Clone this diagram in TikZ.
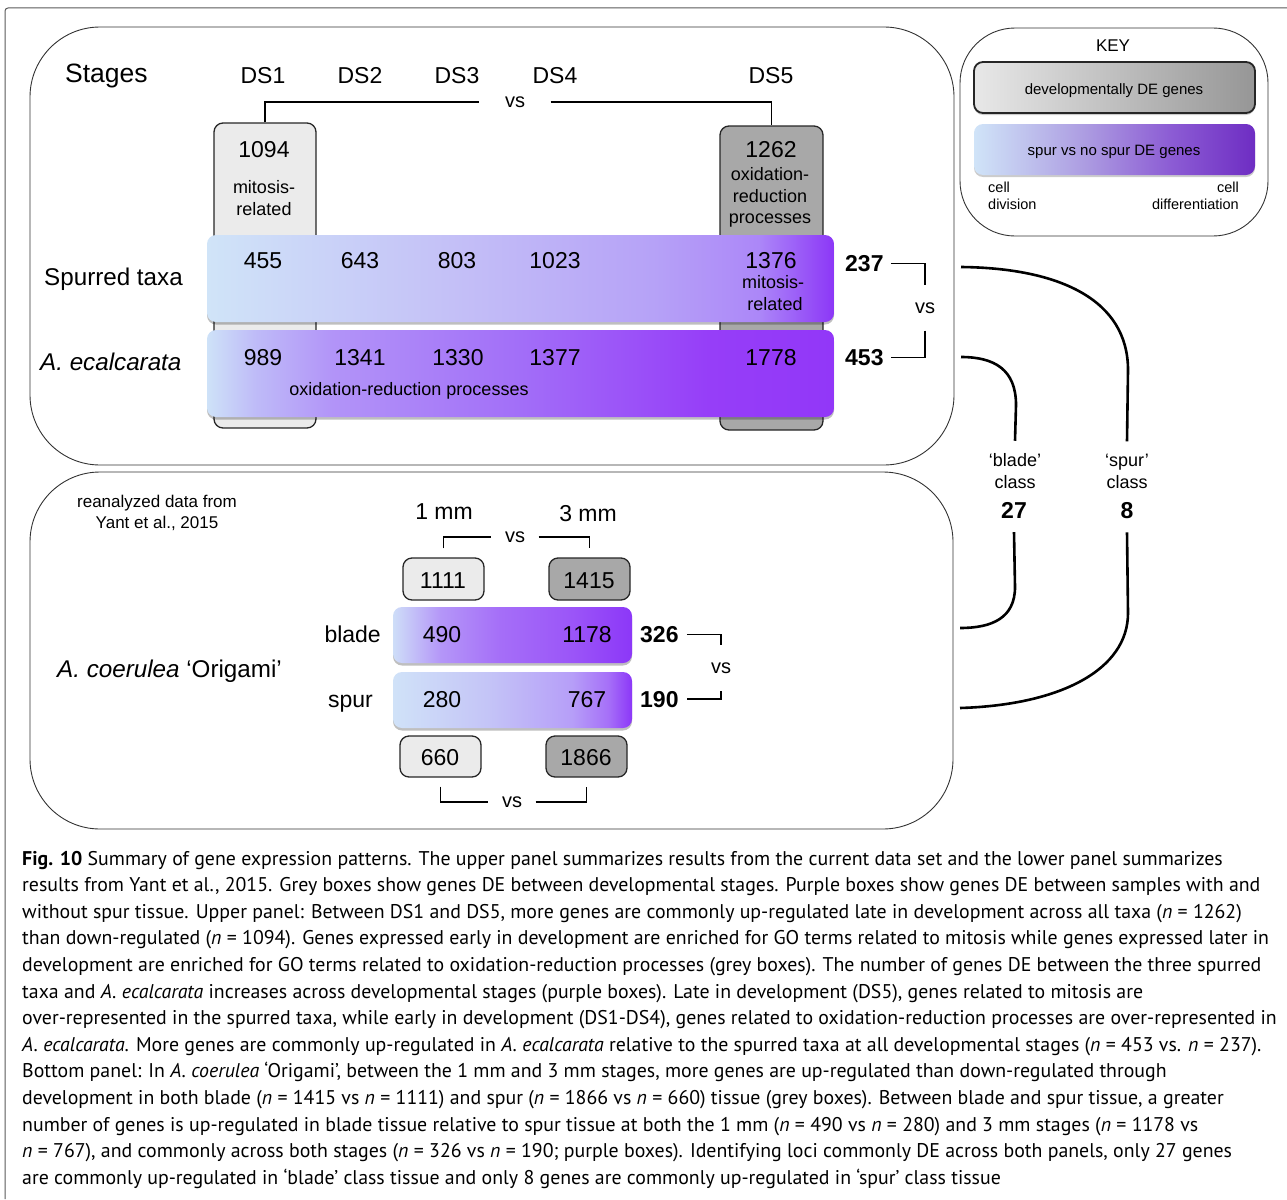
\documentclass[tikz,border=0pt]{standalone}
\usepackage{fontspec}
\setmainfont{Liberation Sans}
\newfontfamily\capfont{PT Sans}
\usetikzlibrary{shadows}
\definecolor{lgrey}{RGB}{235,235,235}
\definecolor{dgrey}{RGB}{168,168,168}
\definecolor{kg0}{RGB}{232,232,232}
\definecolor{kg1}{RGB}{150,150,150}
% spurred taxa
\definecolor{sa0}{RGB}{208,228,248}
\definecolor{sa1}{RGB}{203,214,248}
\definecolor{sa2}{RGB}{196,192,247}
\definecolor{sa3}{RGB}{182,162,247}
\definecolor{sa4}{RGB}{172,135,248}
\definecolor{sa5}{RGB}{140,55,247}
% ecalcarata
\definecolor{ea0}{RGB}{206,226,248}
\definecolor{ea1}{RGB}{190,186,248}
\definecolor{ea2}{RGB}{178,148,248}
\definecolor{ea3}{RGB}{162,110,248}
\definecolor{ea4}{RGB}{150,62,248}
\definecolor{ea5}{RGB}{146,55,248}
% blade
\definecolor{ba0}{RGB}{206,222,248}
\definecolor{ba1}{RGB}{180,150,248}
\definecolor{ba2}{RGB}{165,110,248}
\definecolor{ba3}{RGB}{155,85,248}
\definecolor{ba4}{RGB}{140,55,248}
% spur
\definecolor{pa0}{RGB}{208,226,248}
\definecolor{pa1}{RGB}{196,196,247}
\definecolor{pa2}{RGB}{182,158,248}
\definecolor{pa3}{RGB}{166,112,248}
\definecolor{pa4}{RGB}{140,55,248}
% key purple
\definecolor{ka0}{RGB}{208,228,248}
\definecolor{ka1}{RGB}{172,155,225}
\definecolor{ka2}{RGB}{140,92,212}
\definecolor{ka3}{RGB}{110,45,195}
\pgfdeclarehorizontalshading{spurredshade}{100bp}{color(0bp)=(sa0); color(25bp)=(sa0); color(32.5bp)=(sa1); color(44.5bp)=(sa2); color(60.5bp)=(sa3); color(69bp)=(sa4); color(75bp)=(sa5); color(100bp)=(sa5)}
\pgfdeclarehorizontalshading{ecalshade}{100bp}{color(0bp)=(ea0); color(25bp)=(ea0); color(29bp)=(ea1); color(35bp)=(ea2); color(50bp)=(ea3); color(65bp)=(ea4); color(75bp)=(ea5); color(100bp)=(ea5)}
\pgfdeclarehorizontalshading{bladeshade}{100bp}{color(0bp)=(ba0); color(25bp)=(ba0); color(35bp)=(ba1); color(47.5bp)=(ba2); color(62.5bp)=(ba3); color(75bp)=(ba4); color(100bp)=(ba4)}
\pgfdeclarehorizontalshading{spurshade}{100bp}{color(0bp)=(pa0); color(25bp)=(pa0); color(45bp)=(pa1); color(62.5bp)=(pa2); color(70bp)=(pa3); color(75bp)=(pa4); color(100bp)=(pa4)}
\pgfdeclarehorizontalshading{keypshade}{100bp}{color(0bp)=(ka0); color(25bp)=(ka0); color(45bp)=(ka1); color(60bp)=(ka2); color(75bp)=(ka3); color(100bp)=(ka3)}
\pgfdeclarehorizontalshading{keygshade}{100bp}{color(0bp)=(kg0); color(25bp)=(kg0); color(75bp)=(kg1); color(100bp)=(kg1)}
\tikzset{
  panel/.style={draw=black!80, line width=0.9pt, rounded corners=70pt, inner sep=0pt},
  keypanel/.style={draw=black!80, line width=0.9pt, rounded corners=55pt, inner sep=0pt},
  gbox/.style={draw=black!85, line width=1.3pt, rounded corners=9pt, inner sep=0pt},
  bar/.style={rounded corners=9pt, inner sep=0pt, shade,
    drop shadow={shadow xshift=0pt, shadow yshift=-2.5pt, opacity=0.25, fill=black}},
  t/.style={anchor=base, inner sep=0pt, font=\fontsize{23}{27}\selectfont},
  tl/.style={anchor=base west, inner sep=0pt, font=\fontsize{24.2}{28}\selectfont},
  ts/.style={anchor=base, inner sep=0pt, font=\fontsize{18}{21}\selectfont},
  tk/.style={anchor=base, inner sep=0pt, font=\fontsize{14.5}{17}\selectfont},
  tb/.style={anchor=base west, inner sep=0pt, font=\fontsize{23}{27}\selectfont\bfseries},
  vsn/.style={inner sep=0pt, font=\fontsize{20}{24}\selectfont},
  brk/.style={line width=1.2pt, black},
  curve/.style={line width=2.6pt, black},
  captxt/.style={anchor=base west, inner sep=0pt, font=\capfont\fontsize{19.85}{24}\selectfont}
}
\begin{document}
\begin{tikzpicture}[x=1pt, y=-1pt]
\useasboundingbox (0,0) rectangle (1287,1199);
% outer frame
\draw[black!65, line width=1pt, rounded corners=3pt] (1287,8) -- (5,8) -- (5,1199);

% panels
\node[panel, minimum width=924pt, minimum height=438pt] (upper) at (492,246) {};
\node[panel, minimum width=923pt, minimum height=357pt] (lower) at (491.5,650.5) {};
\node[keypanel, minimum width=308pt, minimum height=208pt] (keyp) at (1114,132) {};

% key
\node[anchor=base, inner sep=0pt, font=\fontsize{17}{20}\selectfont] (keyt) at (1113,52) {KEY};
\node[gbox, shading=keygshade, shade, minimum width=281pt, minimum height=51pt, line width=1.8pt, drop shadow={shadow xshift=0pt, shadow yshift=-2pt, opacity=0.2, fill=black}] (keyg) at (1114.5,87.5) {};
\node[rounded corners=9pt, inner sep=0pt, shading=keypshade, shade, minimum width=281pt, minimum height=51pt, drop shadow={shadow xshift=0pt, shadow yshift=-2pt, opacity=0.2, fill=black}] (keypb) at (1114.5,149.5) {};
\node[anchor=base, inner sep=0pt, font=\fontsize{15}{18}\selectfont] (keygt) at (1114,94) {developmentally DE genes};
\node[anchor=base, inner sep=0pt, font=\fontsize{15}{18}\selectfont] (keypt) at (1114,155) {spur vs no spur DE genes};
\node[tk, anchor=base west] (kc1) at (988,192) {cell};
\node[tk, anchor=base west] (kd1) at (988,209) {division};
\node[tk, anchor=base east] (kc2) at (1239,192) {cell};
\node[tk, anchor=base east] (kd2) at (1239,209) {differentiation};

% upper panel: grey boxes
\node[gbox, fill=lgrey, minimum width=102pt, minimum height=305pt] (g1) at (265,275.5) {};
\node[gbox, fill=dgrey, minimum width=103pt, minimum height=304pt] (g5) at (771.5,278) {};
% bars
\node[bar, shading=spurredshade, minimum width=627pt, minimum height=87pt] (sbar) at (520.5,278.5) {};
\node[bar, shading=ecalshade, minimum width=627pt, minimum height=87pt] (ebar) at (520.5,373.5) {};

% stage labels
\node[t, anchor=base west, font=\fontsize{26.5}{30}\selectfont] (stages) at (65,82) {Stages};
\node[t] (ds1) at (263,84) {DS1};
\node[t] (ds2) at (360,84) {DS2};
\node[t] (ds3) at (457,84) {DS3};
\node[t] (ds4) at (555,84) {DS4};
\node[t] (ds5) at (771,84) {DS5};
\node[vsn, minimum width=71pt] (vsT) at (515,102) {vs};
\draw[brk] (g1.north) |- (vsT.west);
\draw[brk] (vsT.east) -| (g5.north);

% grey box texts
\node[t] (n1094) at (264,157) {1094};
\node[ts] (m1) at (264,193) {mitosis-};
\node[ts] (r1) at (264,215) {related};
\node[t] (n1262) at (771,157) {1262};
\node[ts] (o5) at (770,180) {oxidation-};
\node[ts] (r5) at (770,202) {reduction};
\node[ts] (p5) at (770,223) {processes};

% row labels
\node[tl] (spt) at (44,285) {Spurred taxa};
\node[tl] (ecal) at (40,370) {\itshape A. ecalcarata};

% bar numbers
\node[t] (a1) at (263,268) {455};
\node[t] (a2) at (360,268) {643};
\node[t] (a3) at (457,268) {803};
\node[t] (a4) at (555,268) {1023};
\node[t] (a5) at (771,268) {1376};
\node[ts] (am) at (773,288) {mitosis-};
\node[ts] (ar) at (775,310) {related};
\node[t] (b1) at (263,365) {989};
\node[t] (b2) at (360,365) {1341};
\node[t] (b3) at (458,365) {1330};
\node[t] (b4) at (555,365) {1377};
\node[t] (b5) at (771,365) {1778};
\node[ts] (bo) at (409,395) {oxidation-reduction processes};

% totals
\node[tb] (n237) at (845,271) {237};
\node[tb] (n453) at (845,365) {453};
\node[vsn, minimum height=45pt] (vsR) at (925,308) {vs};
\draw[brk] ([xshift=7pt]n237.east) -| (vsR.north);
\draw[brk] (vsR.south) |- ([xshift=7pt]n453.east);

% class labels
\node[ts] (qblade) at (1015,466) {‘blade’};
\node[ts] (cblade) at (1015,488) {class};
\node[t, font=\fontsize{23}{27}\selectfont\bfseries] (n27) at (1014,518) {27};
\node[ts] (qspur) at (1127,466) {‘spur’};
\node[ts] (cspur) at (1127,488) {class};
\node[t, font=\fontsize{23}{27}\selectfont\bfseries] (n8) at (1127,518) {8};

% curves
\coordinate (sp1) at (961,267);
\coordinate (bl1) at (961,357);
\coordinate (bl2) at (960,628);
\coordinate (sp2) at (960,708);
\draw[curve] (sp1) .. controls (1060,268) and (1128,300) .. (1128,370) -- ([yshift=12pt]qspur.north);
\draw[curve] (bl1) .. controls (995,357) and (1016,370) .. (1016,405) -- ([yshift=12pt]qblade.north);
\draw[curve] ([yshift=-14pt]n8.south) -- (1128,613) .. controls (1128,670) and (1060,705) .. (sp2);
\draw[curve] ([yshift=-14pt]n27.south) -- (1015,587) .. controls (1015,618) and (992,628) .. (bl2);

% lower panel
\node[ts, font=\fontsize{17}{20}\selectfont] (rean) at (157,507) {reanalyzed data from};
\node[ts, font=\fontsize{17}{20}\selectfont] (yant) at (157,528) {Yant et al., 2015};
\node[t] (mm1) at (444,519) {1 mm};
\node[t] (mm3) at (588,521) {3 mm};

\node[gbox, fill=lgrey, minimum width=81pt, minimum height=42pt] (c1111) at (443.5,579) {};
\node[gbox, fill=dgrey, minimum width=81pt, minimum height=42pt] (c1415) at (589.5,579) {};
\node[gbox, fill=lgrey, minimum width=81pt, minimum height=41pt] (c660) at (440.5,756.5) {};
\node[gbox, fill=dgrey, minimum width=81pt, minimum height=41pt] (c1866) at (586.5,756.5) {};
\node[bar, shading=bladeshade, minimum width=239pt, minimum height=56pt] (blbar) at (512.5,635) {};
\node[bar, shading=spurshade, minimum width=239pt, minimum height=56pt] (spbar) at (512.5,700) {};

\node[t] (t1111) at (443,588) {1111};
\node[t] (t1415) at (589,588) {1415};
\node[t] (t490) at (442,642) {490};
\node[t] (t1178) at (587,642) {1178};
\node[t] (t280) at (442,707) {280};
\node[t] (t767) at (587,707) {767};
\node[t] (t660) at (440,765) {660};
\node[t] (t1866) at (586,765) {1866};

\node[vsn, minimum width=47pt] (vsL) at (515,537) {vs};
\draw[brk] ([yshift=9pt]c1111.north) |- (vsL.west);
\draw[brk] (vsL.east) -| ([yshift=9pt]c1415.north);
\node[vsn, minimum width=47pt] (vsB) at (512,802) {vs};
\draw[brk] ([yshift=-9pt]c660.south) |- (vsB.west);
\draw[brk] (vsB.east) -| ([yshift=-9pt]c1866.south);

\node[t, anchor=base east] (lblade) at (381,642) {blade};
\node[t, anchor=base east] (lspur) at (373,707) {spur};
\node[tl] (acoer) at (57,677) {{\itshape A. coerulea} ‘Origami’};

\node[tb] (n326) at (640,642) {326};
\node[tb] (n190) at (640,707) {190};
\node[vsn, minimum height=46pt] (vsR2) at (721,668) {vs};
\draw[brk] ([xshift=8pt]n326.east) -| (vsR2.north);
\draw[brk] (vsR2.south) |- ([xshift=8pt]n190.east);

% caption
\node[captxt] (l1) at (22,865.0) {{\bfseries Fig. 10} Summary of gene expression patterns. The upper panel summarizes results from the current data set and the lower panel summarizes};
\node[captxt] (l2) at (22,891.6) {results from Yant et al., 2015. Grey boxes show genes DE between developmental stages. Purple boxes show genes DE between samples with and};
\node[captxt] (l3) at (22,918.2) {without spur tissue. Upper panel: Between DS1 and DS5, more genes are commonly up-regulated late in development across all taxa ({\itshape n} = 1262)};
\node[captxt] (l4) at (22,944.8) {than down-regulated ({\itshape n} = 1094). Genes expressed early in development are enriched for GO terms related to mitosis while genes expressed later in};
\node[captxt] (l5) at (22,971.4) {development are enriched for GO terms related to oxidation-reduction processes (grey boxes). The number of genes DE between the three spurred};
\node[captxt] (l6) at (22,998.0) {taxa and {\itshape A. ecalcarata} increases across developmental stages (purple boxes). Late in development (DS5), genes related to mitosis are};
\node[captxt] (l7) at (22,1024.6) {over-represented in the spurred taxa, while early in development (DS1-DS4), genes related to oxidation-reduction processes are over-represented in};
\node[captxt] (l8) at (22,1051.2) {{\itshape A. ecalcarata}. More genes are commonly up-regulated in {\itshape A. ecalcarata} relative to the spurred taxa at all developmental stages ({\itshape n} = 453 vs. {\itshape n} = 237).};
\node[captxt] (l9) at (22,1077.8) {Bottom panel: In {\itshape A. coerulea} ‘Origami’, between the 1 mm and 3 mm stages, more genes are up-regulated than down-regulated through};
\node[captxt] (l10) at (22,1104.4) {development in both blade ({\itshape n} = 1415 vs {\itshape n} = 1111) and spur ({\itshape n} = 1866 vs {\itshape n} = 660) tissue (grey boxes). Between blade and spur tissue, a greater};
\node[captxt] (l11) at (22,1131.0) {number of genes is up-regulated in blade tissue relative to spur tissue at both the 1 mm ({\itshape n} = 490 vs {\itshape n} = 280) and 3 mm stages ({\itshape n} = 1178 vs};
\node[captxt] (l12) at (22,1157.6) {{\itshape n} = 767), and commonly across both stages ({\itshape n} = 326 vs {\itshape n} = 190; purple boxes). Identifying loci commonly DE across both panels, only 27 genes};
\node[captxt] (l13) at (22,1184.2) {are commonly up-regulated in ‘blade’ class tissue and only 8 genes are commonly up-regulated in ‘spur’ class tissue};
\end{tikzpicture}
\end{document}
